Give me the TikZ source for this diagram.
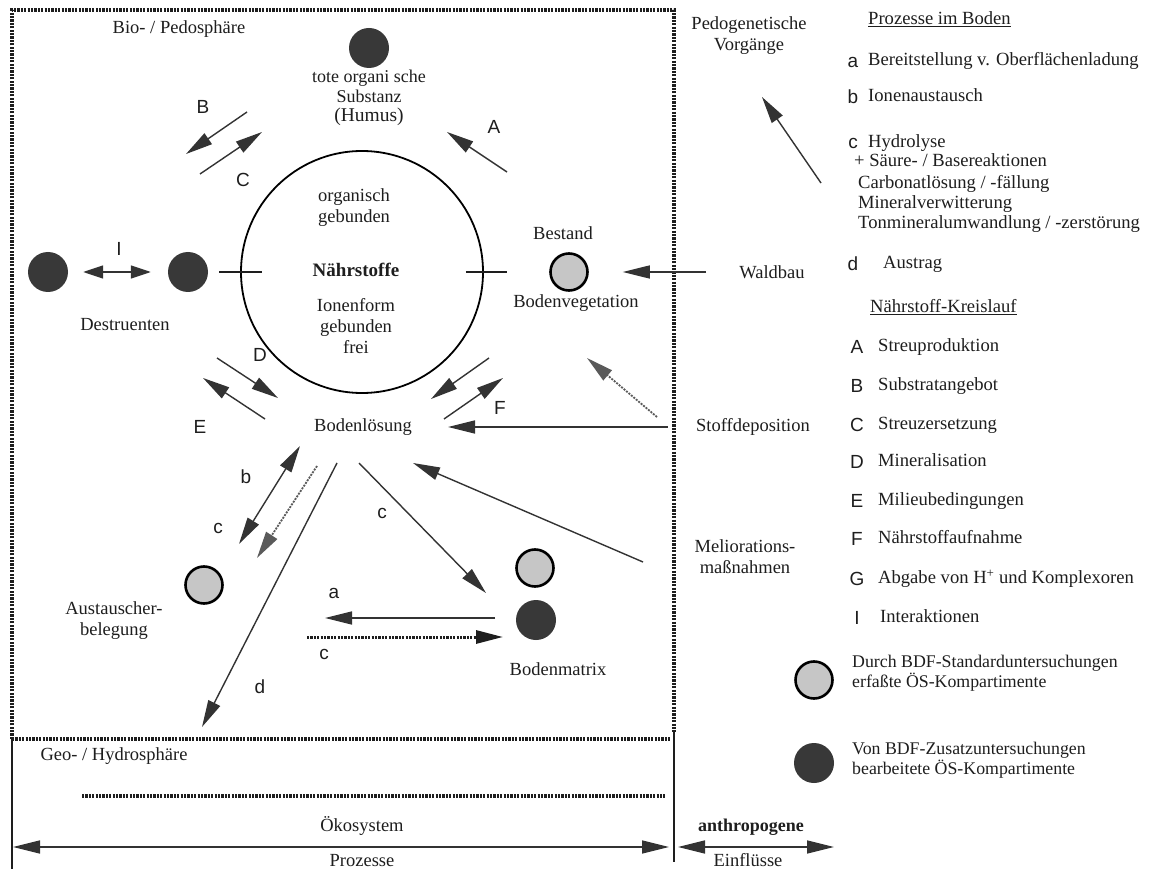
\documentclass[tikz,border=0pt]{standalone}
\usepackage{fontspec}
\setmainfont{Liberation Serif}
\newfontfamily\labfont{Liberation Sans}
\usetikzlibrary{arrows.meta}
\definecolor{ink}{HTML}{1E1E1E}
\definecolor{arrowgray}{HTML}{333333}
\definecolor{darkfill}{HTML}{383838}
\definecolor{lightfill}{HTML}{C6C6C6}
\definecolor{dotgray}{HTML}{5A5A5A}
\tikzset{
  txt/.style={inner sep=0pt, align=center, text=ink, font=\fontsize{18.5}{21}\selectfont},
  lgd/.style={inner sep=0pt, anchor=west, text=ink, text height=13pt, text depth=4pt,
              font=\fontsize{18.6}{20}\selectfont},
  lgdsmall/.style={inner sep=0pt, anchor=west, align=left, text=ink, font=\fontsize{17.8}{20}\selectfont},
  lbl/.style={inner sep=0pt, text=ink, font=\labfont\fontsize{19}{21}\selectfont},
  darkdot/.style={circle, fill=darkfill, minimum size=40pt, inner sep=0pt},
  lightdot/.style={circle, draw=black, line width=2.6pt, fill=lightfill, minimum size=37pt, inner sep=0pt},
  tip/.tip={Triangle[length=27pt,width=13pt]},
  flow/.style={draw=arrowgray, line width=1.4pt, -tip},
  bothflow/.style={draw=arrowgray, line width=1.4pt, tip-tip},
  greyflow/.style={draw=dotgray, line width=1.8pt, dash pattern=on 2pt off 1.2pt, -tip},
  frameline/.style={draw=ink, line width=3.4pt, dash pattern=on 2.2pt off 1.2pt},
  solidrule/.style={draw=ink, line width=1.8pt}
}
\begin{document}
\begin{tikzpicture}[x=1pt,y=-1pt]
\useasboundingbox (0,0) rectangle (1163,869);
\fill[white] (0,0) rectangle (1163,869);

% ---- frame: bio-/pedosphere box, geo-/hydrosphere band, bottom scale
\coordinate (fTL) at (12,10);
\coordinate (fTR) at (674,10);
\coordinate (fRT) at (674,732);
\coordinate (fML) at (12,739);
\coordinate (fMR) at (670,739);
\coordinate (fBL) at (12,869);
\coordinate (fRB) at (674,862);
\coordinate (gL) at (82,796);
\coordinate (gR) at (665,796);
\draw[frameline] (fML) -- (fTL) -- (fTR) -- (fRT);
\draw[frameline] (fML) -- (fMR);
\draw[frameline] (gL) -- (gR);
\draw[solidrule] (fML) -- (fBL);
\draw[solidrule] (fRT) -- (fRB);

\coordinate (pL) at (13,847);
\coordinate (pR) at (669,847);
\coordinate (eL) at (678,847);
\coordinate (eR) at (834,847);
\draw[bothflow] (pL) -- (pR);
\draw[bothflow] (eL) -- (eR);

\node[txt] (bio) at (179,29) {Bio- / Pedosphäre};
\node[txt] (geo) at (114,756) {Geo- / Hydrosphäre};
\node[txt] (oeko) at (362,826) {Ökosystem};
\node[txt] (proz) at (362,861) {Prozesse};
\node[txt, font=\bfseries\fontsize{18}{21}\selectfont] (anthro) at (751,827) {anthropogene};
\node[txt] (einfl) at (748,860) {Einflüsse};

% ---- nutrient pool
\node[circle, draw=black, line width=1.8pt, minimum size=242pt, inner sep=0pt] (pool) at (362,272) {};
\draw[solidrule] ([xshift=-21pt]pool.west) -- ([xshift=22pt]pool.west);
\draw[solidrule] ([xshift=-18pt]pool.east) -- ([xshift=23pt]pool.east);
\node[txt] (org) at (354,208) {organisch\\gebunden};
\node[txt, font=\bfseries\fontsize{19}{21}\selectfont] (naehr) at (356,270) {Nährstoffe};
\node[txt] (ionen) at (356,326) {Ionenform\\gebunden\\frei};

% ---- compartments
\node[darkdot] (humus) at (369,48) {};
\node[txt, font=\fontsize{18}{19.5}\selectfont] (humustxt) at (369,98) {tote organi sche\\Substanz\\{\fontsize{19.5}{19.5}\selectfont(Humus)}};

\node[darkdot] (dest1) at (48,272) {};
\node[darkdot] (dest2) at (188,272) {};
\node[txt] (desttxt) at (125,325) {Destruenten};
\draw[draw=arrowgray, line width=1.4pt, {Triangle[length=20pt,width=13pt]}-{Triangle[length=20pt,width=13pt]},
      shorten <=15pt, shorten >=17pt] (dest1) -- (dest2);
\node[lbl] (labI) at (119,249) {I};

\node[lightdot] (bestand) at (569,272) {};
\node[txt] (bestandtxt) at (563,233) {Bestand};
\node[txt] (vegtxt) at (576,303) {Bodenvegetation};

\node[txt] (bl) at (363,427) {Bodenlösung};

\node[lightdot] (aust) at (204,585) {};
\node[txt] (austtxt) at (114,621) {Austauscher-\\belegung};

\node[lightdot] (matlight) at (535,568) {};
\node[darkdot] (matdark) at (536,620) {};
\node[txt] (mattxt) at (558,669) {Bodenmatrix};

% ---- external influences
\node[txt] (pedo) at (749,36) {Pedogenetische\\Vorgänge};
\node[txt] (wald) at (772,272) {Waldbau};
\node[txt] (stoff) at (753,427) {Stoffdeposition};
\node[txt] (melio) at (745,557) {Meliorations-\\maßnahmen};

\draw[flow, shorten <=33pt, shorten >=34pt] (wald) -- (bestand);
\draw[flow, shorten <=28pt, shorten >=36pt] (stoff) -- (bl);

\coordinate (pedoT) at (821,183);
\coordinate (pedoH) at (762,97);
\draw[flow] (pedoT) -- (pedoH);

% ---- nutrient cycle arrows
\coordinate (aT) at (507,172); \coordinate (aH) at (447,132);
\draw[flow] (aT) -- (aH);
\node[lbl] (labA) at (494,127) {A};

\coordinate (bT) at (247,112); \coordinate (bH) at (186,154);
\draw[flow] (bT) -- (bH);
\node[lbl] (labB) at (203,107) {B};

\coordinate (cT) at (200,174); \coordinate (cH) at (262,132);
\draw[flow] (cT) -- (cH);
\node[lbl] (labC) at (243,180) {C};

\coordinate (dT) at (217,358); \coordinate (dH) at (278,398);
\draw[flow] (dT) -- (dH);
\node[lbl] (labD) at (260,355) {D};

\coordinate (eT) at (265,419); \coordinate (eH) at (203,378);
\draw[flow] (eT) -- (eH);
\node[lbl] (labE) at (200,427) {E};

\coordinate (f1T) at (489,358); \coordinate (f1H) at (431,399);
\draw[flow] (f1T) -- (f1H);
\coordinate (f2T) at (444,419); \coordinate (f2H) at (503,378);
\draw[flow] (f2T) -- (f2H);
\node[lbl] (labF) at (500,408) {F};

\coordinate (gT) at (657,417); \coordinate (gH) at (587,358);
\draw[greyflow] (gT) -- (gH);

% ---- soil processes
\coordinate (xbU) at (300,446); \coordinate (xbL) at (239,544);
\draw[bothflow] (xbL) -- (xbU);
\node[lbl] (labb) at (246,477) {b};
\node[lbl] (labc1) at (218,528) {c};

\coordinate (xgT) at (317,466); \coordinate (xgH) at (257,558);
\draw[greyflow] (xgT) -- (xgH);

\coordinate (xdT) at (337,463); \coordinate (xdH) at (202,727);
\draw[flow] (xdT) -- (xdH);
\node[lbl] (labd) at (260,687) {d};

\coordinate (xcT) at (359,463); \coordinate (xcH) at (486,593);
\draw[flow] (xcT) -- (xcH);
\node[lbl] (labc2) at (382,513) {c};

\coordinate (xmT) at (643,562); \coordinate (xmH) at (413,463);
\draw[flow] (xmT) -- (xmH);

\coordinate (xaT) at (495,618); \coordinate (xaH) at (325,618);
\draw[flow] (xaT) -- (xaH);
\node[lbl] (laba) at (334,593) {a};

\coordinate (xwT) at (307,637); \coordinate (xwH) at (503,637);
\draw[frameline, line width=3pt, -{Triangle[length=27pt,width=13pt]}] (xwT) -- (xwH);
\node[lbl] (labc3) at (324,654) {c};

% ---- legend: soil processes
\node[lgd] (hpb) at (868,20) {\underline{Prozesse im Boden}};
\node[lbl] (ka) at (853,62) {a};
\node[lgd] (ta) at (868,61) {Bereitstellung v. Oberflächenladung};
\node[lbl] (kb) at (853,97) {b};
\node[lgd] (tb) at (868,97) {Ionenaustausch};
\node[lbl] (kc) at (853,143) {c};
\node[lgd] (tc) at (868,143) {Hydrolyse};
\node[lgd] (tc1) at (854,162) {+ Säure- / Basereaktionen};
\node[lgd] (tc2) at (858,184) {Carbonatlösung / -fällung};
\node[lgd] (tc3) at (858,204) {Mineralverwitterung};
\node[lgd] (tc4) at (858,224) {Tonmineralumwandlung / -zerstörung};
\node[lbl] (kd) at (853,264) {d};
\node[lgd] (td) at (883,264) {Austrag};

% ---- legend: nutrient cycle
\node[lgd] (hnk) at (870,308) {\underline{Nährstoff-Kreislauf}};
\node[lbl] (kA) at (857,347) {A};
\node[lgd] (tA) at (878,347) {Streuproduktion};
\node[lbl] (kB) at (857,386) {B};
\node[lgd] (tB) at (878,386) {Substratangebot};
\node[lbl] (kC) at (857,425) {C};
\node[lgd] (tC) at (878,425) {Streuzersetzung};
\node[lbl] (kD) at (857,462) {D};
\node[lgd] (tD) at (878,462) {Mineralisation};
\node[lbl] (kE) at (857,501) {E};
\node[lgd] (tE) at (878,501) {Milieubedingungen};
\node[lbl] (kF) at (857,539) {F};
\node[lgd] (tF) at (878,539) {Nährstoffaufnahme};
\node[lbl] (kG) at (857,579) {G};
\node[lgd] (tG) at (878,579) {Abgabe von H\textsuperscript{+} und Komplexoren};
\node[lbl] (kI) at (857,618) {I};
\node[lgd] (tI) at (880,618) {Interaktionen};

% ---- legend: compartment symbols
\node[lightdot] (sym1) at (814,680) {};
\node[lgdsmall] (sym1txt) at (852,673) {Durch BDF-Standarduntersuchungen\\erfaßte ÖS-Kompartimente};
\node[darkdot] (sym2) at (814,763) {};
\node[lgdsmall] (sym2txt) at (852,760) {Von BDF-Zusatzuntersuchungen\\bearbeitete ÖS-Kompartimente};
\end{tikzpicture}
\end{document}
